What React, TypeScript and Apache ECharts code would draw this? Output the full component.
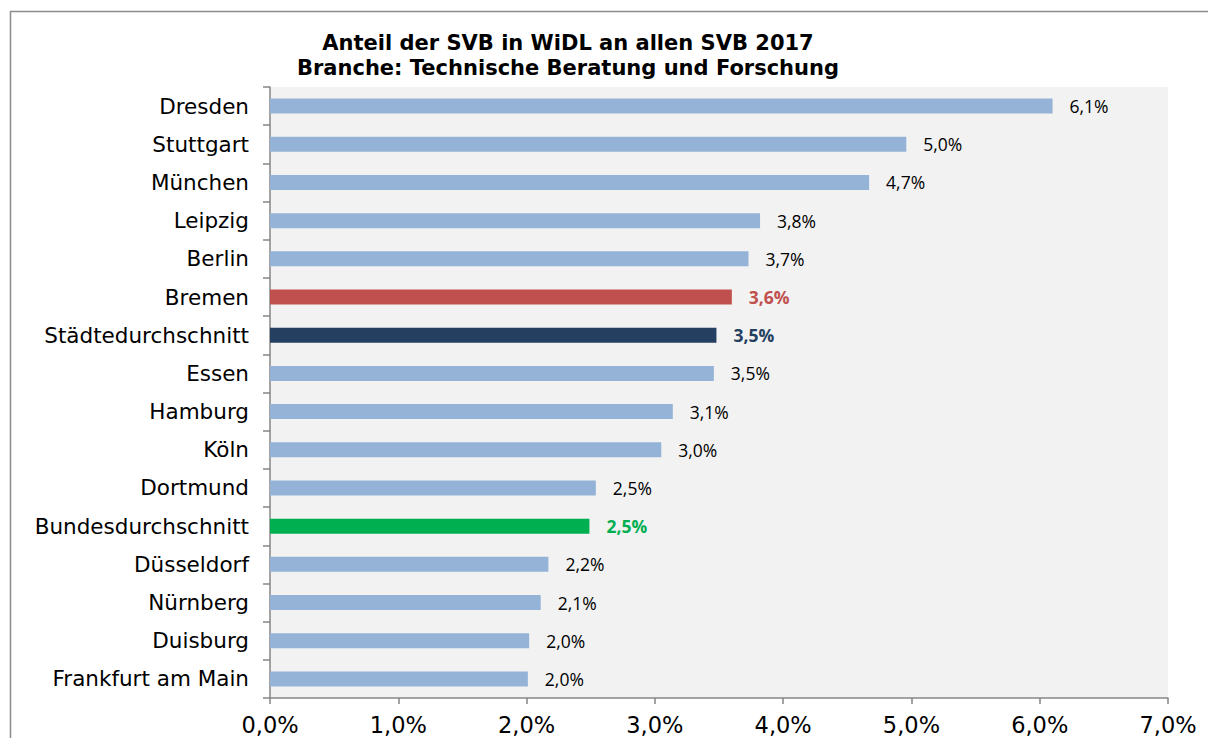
import React, { useEffect, useRef } from "react";
import * as echarts from "echarts";

const categories = [
  "Dresden", "Stuttgart", "München", "Leipzig", "Berlin", "Bremen",
  "Städtedurchschnitt", "Essen", "Hamburg", "Köln", "Dortmund",
  "Bundesdurchschnitt", "Düsseldorf", "Nürnberg", "Duisburg", "Frankfurt am Main",
];
const values = [6.1, 4.96, 4.67, 3.82, 3.73, 3.6, 3.48, 3.46, 3.14, 3.05, 2.54, 2.49, 2.17, 2.11, 2.02, 2.01];
const valueLabels = ["6,1%", "5,0%", "4,7%", "3,8%", "3,7%", "3,6%", "3,5%", "3,5%", "3,1%", "3,0%", "2,5%", "2,5%", "2,2%", "2,1%", "2,0%", "2,0%"];
const titleLines = ["Anteil der SVB in WiDL an allen SVB 2017", "Branche: Technische Beratung und Forschung"];
const highlight: Record<string, string> = {
  Bremen: "#C0504D",
  "Städtedurchschnitt": "#243F60",
  Bundesdurchschnitt: "#00B050",
};
const baseColor = "#95B3D7";

export default function App() {
  const ref = useRef<HTMLDivElement>(null);
  useEffect(() => {
    document.body.style.margin = "0";
    const chart = echarts.init(ref.current!, null, { renderer: "svg" });
    chart.setOption({
      animation: false,
      backgroundColor: "#ffffff",
      title: {
        text: titleLines.join("\n"),
        left: 563,
        top: 25,
        textAlign: "center",
        textStyle: {
          fontFamily: "DejaVu Sans",
          fontWeight: "bold",
          fontSize: 21,
          lineHeight: 25,
          color: "#000",
        },
      },
      graphic: [
        {
          type: "rect",
          shape: { x: 10.5, y: 11.5, width: 1300, height: 900 },
          style: { fill: "none", stroke: "#8c8c8c", lineWidth: 1.5 },
          silent: true,
        },
      ],
      grid: {
        left: 270,
        right: 40,
        top: 87,
        bottom: 40,
        show: true,
        backgroundColor: "#F2F2F2",
        borderWidth: 0,
      },
      xAxis: {
        type: "value",
        min: 0,
        max: 7,
        interval: 1,
        splitLine: { show: false },
        axisLine: { show: true, lineStyle: { color: "#868686", width: 1.5 } },
        axisTick: { show: true, length: 6, lineStyle: { color: "#868686", width: 1.5 } },
        axisLabel: {
          fontFamily: "DejaVu Sans",
          fontSize: 22.5,
          color: "#000",
          margin: 15,
          formatter: (v: number) => v.toFixed(1).replace(".", ",") + "%",
        },
      },
      yAxis: {
        type: "category",
        data: categories,
        inverse: true,
        axisLine: { show: true, lineStyle: { color: "#868686", width: 1.5 } },
        axisTick: { show: true, length: 7, lineStyle: { color: "#868686", width: 1.5 } },
        axisLabel: {
          fontFamily: "DejaVu Sans",
          fontSize: 21.5,
          color: "#000",
          margin: 21,
        },
      },
      series: [
        {
          type: "bar",
          barWidth: 15,
          data: values.map((v, i) => {
            const c = highlight[categories[i]];
            return {
              value: v,
              itemStyle: { color: c || baseColor },
              label: {
                color: c ? c : "#000",
                fontWeight: c ? "bold" : "normal",
              },
            };
          }),
          label: {
            show: true,
            position: "right",
            distance: 17,
            fontFamily: "Open Sans",
            fontSize: 17.5,
            formatter: (p: any) => valueLabels[p.dataIndex],
          },
        },
      ],
    });
    return () => chart.dispose();
  }, []);
  return <div ref={ref} style={{ width: 1208, height: 738 }} />;
}
